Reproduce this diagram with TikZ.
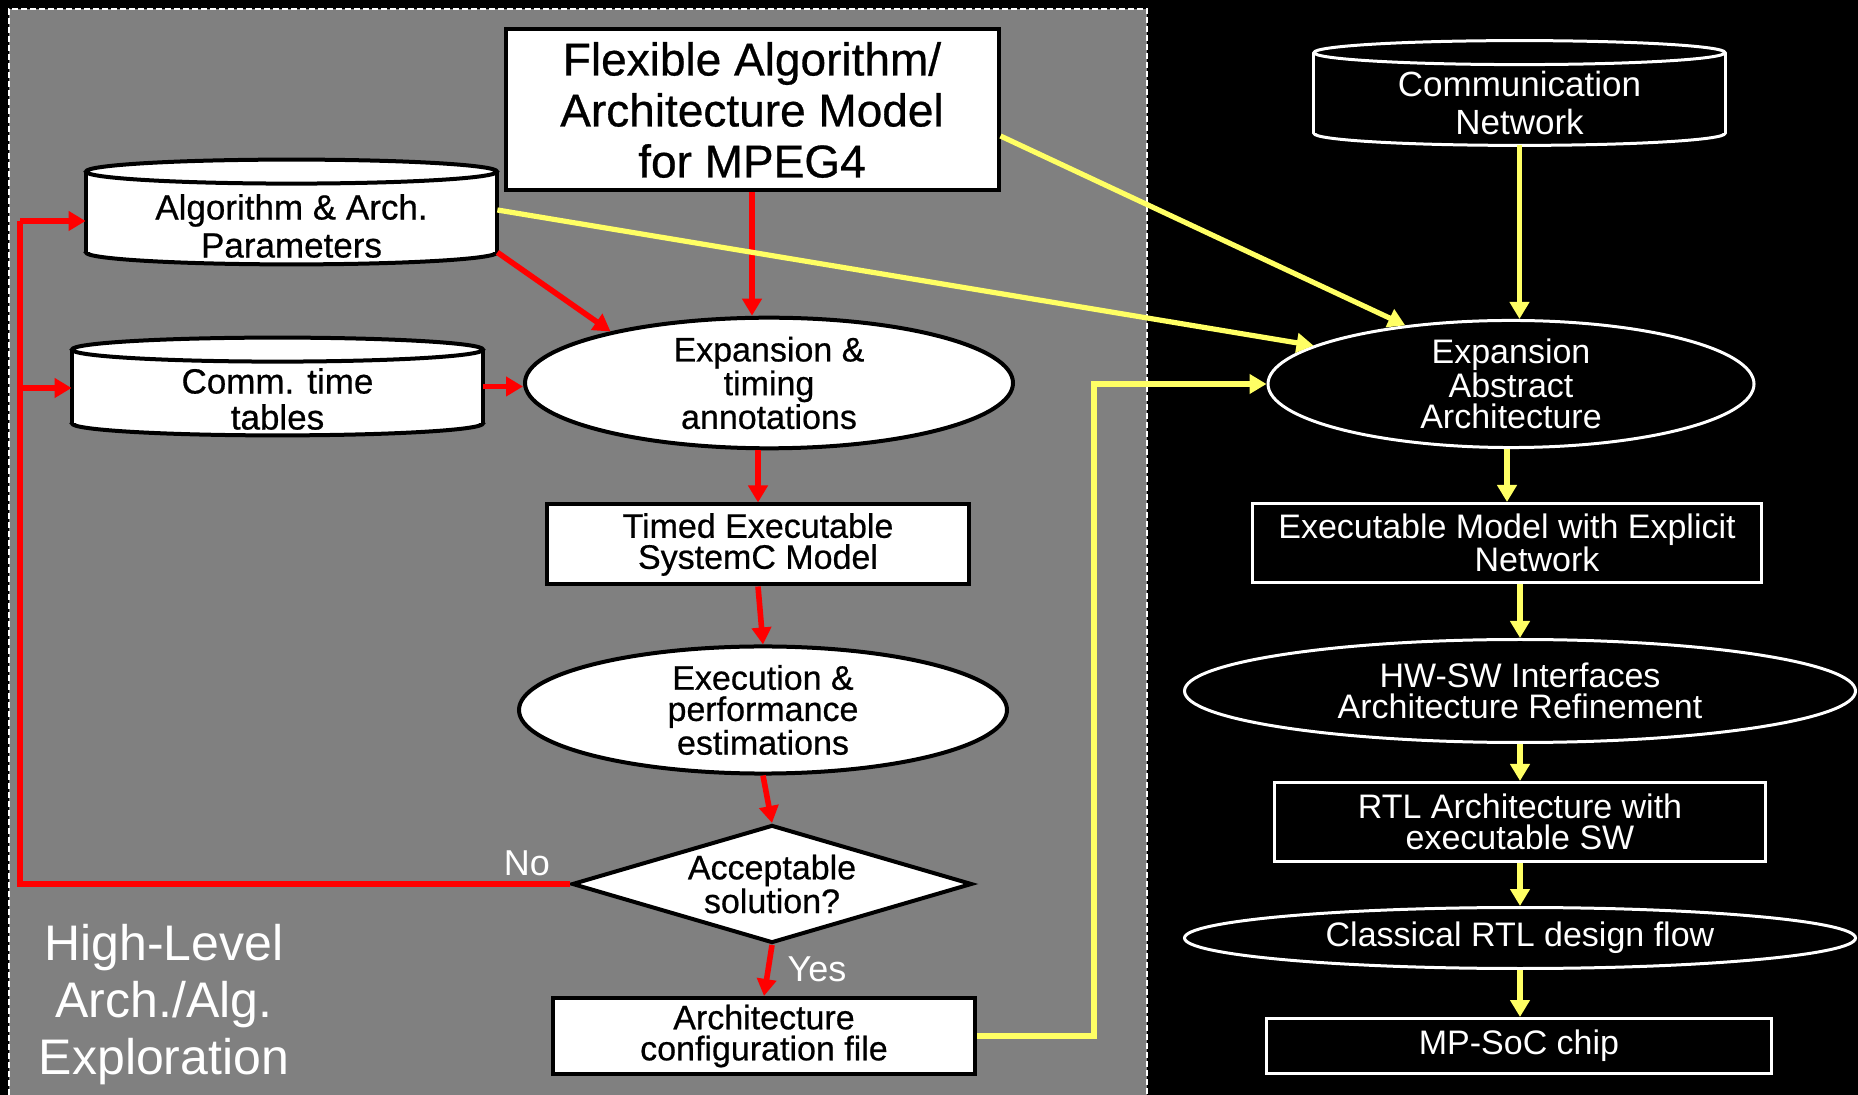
\documentclass[tikz,border=0pt]{standalone}
\usepackage{fontspec}
\setmainfont{Liberation Sans}
\newfontfamily\lfont[FakeBold=0.6]{Liberation Sans}
\usetikzlibrary{shapes.geometric,arrows.meta,calc}
\definecolor{panelgrey}{RGB}{128,128,128}
\definecolor{yel}{RGB}{255,255,100}
\newcommand{\drawcyl}[4]{%
  \draw[#4] (#1.south) ellipse[x radius=#2, y radius=#3];
  \fill[#4,draw=none] (#1.north west) rectangle (#1.south east);
  \draw[#4,fill=none] (#1.north west) -- (#1.south west) (#1.north east) -- (#1.south east);
  \draw[#4] (#1.north) ellipse[x radius=#2, y radius=#3];}
\begin{document}
\begin{tikzpicture}[x=0.5pt,y=-0.5pt,
  redarr/.style={draw=red, line width=2.8pt, -{Triangle[length=8.5pt,width=9.5pt]}},
  redline/.style={draw=red, line width=2.8pt},
  yelarr/.style={draw=yel, line width=2.6pt, -{Triangle[length=8.5pt,width=9.5pt]}},
  lbox/.style={draw=black, fill=white, line width=2pt, inner sep=0pt, align=center, text=black, font=\lfont\fontsize{17}{15.5}\selectfont},
  lell/.style={ellipse, draw=black, fill=white, line width=2pt, inner sep=0pt, align=center, text=black, font=\lfont\fontsize{17}{15.6}\selectfont},
  ldia/.style={diamond, draw=black, fill=white, line width=2pt, inner sep=0pt, align=center, text=black, font=\lfont\fontsize{17}{15.6}\selectfont},
  cylbody/.style={draw=none, inner sep=0pt},
  lcyl/.style={draw=black, fill=white, line width=2pt},
  rcyl/.style={draw=white, fill=black, line width=1.5pt},
  ctext/.style={align=center, inner sep=0pt, font=\fontsize{17.5}{19}\selectfont},
  rbox/.style={draw=white, fill=black, line width=1.5pt, inner sep=0pt, align=center, text=white, font=\fontsize{17}{15.6}\selectfont},
  rell/.style={ellipse, draw=white, fill=black, line width=1.5pt, inner sep=0pt, align=center, text=white, font=\fontsize{17}{15.6}\selectfont},
  wlabel/.style={text=white, inner sep=0pt, align=center}]
\useasboundingbox (0,0) rectangle (1858,1095);
\fill[black] (0,0) rectangle (1858,1095);
\fill[panelgrey] (9,9) rectangle (1147,1095);
\draw[white, line width=0.6pt, dash pattern=on 3pt off 1.5pt] (9,1095) -- (9,9) -- (1147,9) -- (1147,1095);

% left column
\node[lbox, minimum width=246.5pt, minimum height=80.5pt, font=\lfont\fontsize{23}{25.5}\selectfont] (flex) at (752,110) {Flexible Algorithm/\\Architecture Model\\for MPEG4};

\node[cylbody, minimum width=205.5pt, minimum height=40pt] (alg) at (291.5,212) {};
\drawcyl{alg}{102.75pt}{6pt}{lcyl}
\node[ctext, text=black, font=\lfont\fontsize{17.5}{19}\selectfont] (algt) at (291.5,226) {Algorithm \& Arch.\\Parameters};

\node[cylbody, minimum width=205.5pt, minimum height=36.5pt] (ctt) at (277.5,386.5) {};
\drawcyl{ctt}{102.75pt}{6pt}{lcyl}
\node[ctext, text=black, font=\lfont\fontsize{17.5}{18}\selectfont] (cttt) at (277.5,399) {Comm. time\\tables};

\node[lell, minimum width=244pt, minimum height=58pt] (exptim) at (769,383) {Expansion \&\\timing\\annotations};
\node[lbox, minimum width=211pt, minimum height=40pt] (timed) at (758,544.5) {Timed Executable\\SystemC Model};
\node[lell, minimum width=244pt, minimum height=63.5pt] (exec) at (763,710) {Execution \&\\performance\\estimations};
\node[ldia, minimum width=200pt, minimum height=59pt, aspect=3.4] (dia) at (772,884) {Acceptable\\solution?};
\node[lbox, minimum width=211pt, minimum height=38pt] (cfg) at (764,1036) {Architecture\\configuration file};

\node[wlabel, font=\fontsize{18}{18}\selectfont] (no) at (527,863) {No};
\node[wlabel, font=\fontsize{18}{18}\selectfont] (yes) at (817,969) {Yes};
\node[wlabel, font=\fontsize{25}{28.5}\selectfont] (hl) at (164,1005) {High-Level\\Arch./Alg.\\Exploration};

% right column
\node[cylbody, minimum width=205.5pt, minimum height=40pt] (comm) at (1519.5,93) {};
\drawcyl{comm}{102.75pt}{6pt}{rcyl}
\node[ctext, text=white] (commt) at (1519.5,102.5) {Communication\\Network};

\node[rell, minimum width=243pt, minimum height=57pt] (expabs) at (1511,384) {Expansion\\Abstract\\Architecture};
\node[rbox, minimum width=254.5pt, minimum height=39.5pt] (exm) at (1507,543) {Executable Model with Explicit\\\hspace*{30pt}Network};
\node[rell, minimum width=335.5pt, minimum height=51.5pt] (hwsw) at (1520,691) {HW-SW Interfaces\\Architecture Refinement};
\node[rbox, minimum width=245.5pt, minimum height=39.5pt] (rtl) at (1520,822) {RTL Architecture with\\executable SW};
\node[rell, minimum width=335.5pt, minimum height=30.5pt] (cls) at (1520,938) {Classical RTL design flow};
\node[rbox, minimum width=252.5pt, minimum height=27.5pt] (mp) at (1519,1046) {MP-SoC chip};

% red connectors
\draw[redarr] (flex.south) -- (flex.south |- exptim.north);
\draw[redarr] (alg.south east) -- (exptim.162);
\draw[redarr] (ctt.east) -- (ctt.east -| exptim.west);
\draw[redarr] (timed.north |- exptim.south) -- (timed.north);
\draw[redarr] (timed.south) -- (exec.north);
\draw[redarr] (exec.south) -- (dia.north);
\draw[redarr] (dia.south) -- (cfg.north);
\coordinate (fbtop) at (20,221);
\coordinate (fbmid) at (20,388);
\draw[redline] (dia.west) -| (fbtop);
\draw[redarr] (fbtop) -- (fbtop -| alg.west);
\draw[redarr] (fbmid) -- (fbmid -| ctt.west);

% yellow connectors
\draw[yelarr] ([yshift=-6pt]comm.south) -- (comm.south |- expabs.north);
\draw[yelarr] ([yshift=-13pt]flex.east) -- (expabs.151);
\draw[yelarr] ([yshift=1pt]alg.east) -- (expabs.169);
\draw[yelarr] (cfg.east) -- ++(117,0) |- (expabs.west);
\draw[yelarr] (expabs.south -| exm.north) -- (exm.north);
\draw[yelarr] (exm.south -| hwsw.north) -- (hwsw.north);
\draw[yelarr] (hwsw.south) -- (rtl.north);
\draw[yelarr] (rtl.south) -- (cls.north);
\draw[yelarr] (cls.south) -- (cls.south |- mp.north);
\end{tikzpicture}
\end{document}
